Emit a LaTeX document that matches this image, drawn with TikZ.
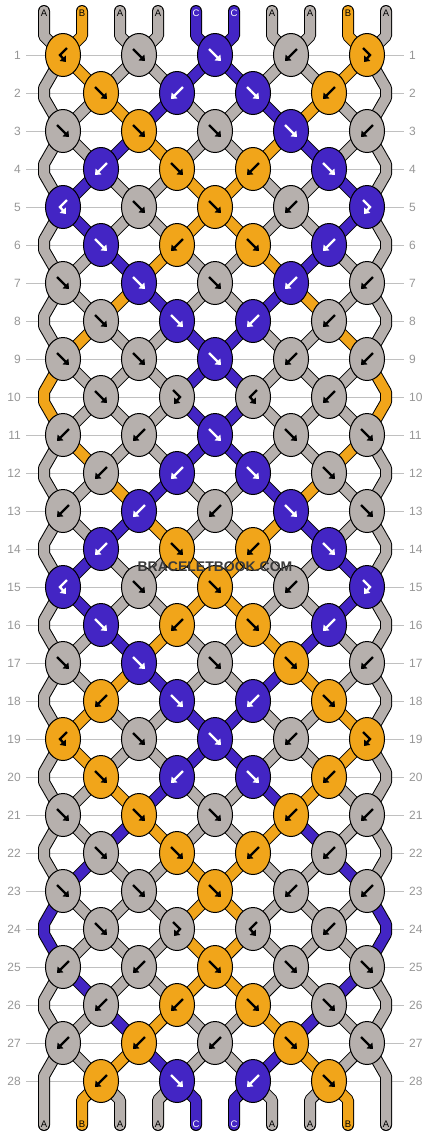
\documentclass[tikz,border=0pt]{standalone}
\usepackage{fontspec}
\setmainfont{Liberation Sans}
\usetikzlibrary{arrows.meta,shapes.geometric}
\definecolor{threadA}{RGB}{182,176,173}
\definecolor{threadB}{RGB}{241,165,26}
\definecolor{threadC}{RGB}{67,37,196}
\colorlet{inkA}{black}
\colorlet{inkB}{black}
\colorlet{inkC}{white}
\definecolor{rowgray}{RGB}{192,192,192}
\definecolor{numgray}{RGB}{150,150,150}
\definecolor{markgray}{RGB}{58,58,58}

% knot glyphs, drawn from the knot centre
\newcommand\glyphf{++(-6,-6) -- ++(12,12)}
\newcommand\glyphb{++(6,-6) -- ++(-12,12)}
\newcommand\glyphbf{++(4,-7) -- ++(-7,7) -- ++(6,7)}
\newcommand\glyphfb{++(-4,-7) -- ++(7,7) -- ++(-6,7)}

\tikzset{
  strand/.style={draw=black, double=#1, double distance=10pt, line width=1pt,
    line join=round, line cap=round},
  knot/.style={ellipse, draw=black, line width=1pt, fill=#1,
    minimum width=35pt, minimum height=43pt, inner sep=0pt},
  glyph/.style={draw=#1, line width=2.4pt, -{Triangle[length=5pt,width=8pt]}},
  rownum/.style={text=numgray, font=\fontsize{12}{12}\selectfont, inner sep=5pt},
  rowline/.style={draw=rowgray, line width=1pt},
  letter/.style={text=#1, font=\fontsize{9.5}{9.5}\selectfont, inner sep=0pt},
  declare function={
    ky(\i)=55+38*(\i-1);
    kx(\i,\j)=44+38*(\j-1)+(mod(\i,2)==1 ? (mod(\j,2)==1 ? 19 : -19)
      : ((\j==1 || \j==10) ? 0 : (mod(\j,2)==0 ? 19 : -19)));
  }
}

\begin{document}
\begin{tikzpicture}[x=1pt,y=-1pt]
\useasboundingbox (0,0) rectangle (430,1136);

% row numbers and guide lines
\foreach \r in {1,...,28} {
  \node[rownum, anchor=east] (ln-\r) at (26,{ky(\r)}) {\r};
  \node[rownum, anchor=west] (rn-\r) at (404,{ky(\r)}) {\r};
  \draw[rowline] (ln-\r) -- (rn-\r);
}

% points where the threads meet
\foreach \p in {1,...,10} {
  \coordinate (t-\p) at ({44+38*(\p-1)},11);
  \coordinate (tb-\p) at ({44+38*(\p-1)},36);
  \coordinate (bb-\p) at ({44+38*(\p-1)},1100);
  \coordinate (b-\p) at ({44+38*(\p-1)},1125);
  \foreach \r in {1,...,28}
    \coordinate (s-\r-\p) at ({kx(\r,\p)},{ky(\r)});
}

% threads, colour of each position after row \r
\foreach \r/\row in {0/{A,B,A,A,C,C,A,A,B,A}, 1/{A,B,A,A,C,C,A,A,B,A},
    2/{A,A,B,C,A,A,C,B,A,A}, 3/{A,A,C,B,A,A,B,C,A,A}, 4/{A,C,A,A,B,B,A,A,C,A},
    5/{A,C,A,A,B,B,A,A,C,A}, 6/{A,A,C,B,A,A,B,C,A,A}, 7/{A,A,B,C,A,A,C,B,A,A},
    8/{A,B,A,A,C,C,A,A,B,A}, 9/{B,A,A,A,C,C,A,A,A,B}, 10/{B,A,A,A,C,C,A,A,A,B},
    11/{A,B,A,A,C,C,A,A,B,A}, 12/{A,A,B,C,A,A,C,B,A,A}, 13/{A,A,C,B,A,A,B,C,A,A},
    14/{A,C,A,A,B,B,A,A,C,A}, 15/{A,C,A,A,B,B,A,A,C,A}, 16/{A,A,C,B,A,A,B,C,A,A},
    17/{A,A,B,C,A,A,C,B,A,A}, 18/{A,B,A,A,C,C,A,A,B,A}, 19/{A,B,A,A,C,C,A,A,B,A},
    20/{A,A,B,C,A,A,C,B,A,A}, 21/{A,A,C,B,A,A,B,C,A,A}, 22/{A,C,A,A,B,B,A,A,C,A},
    23/{C,A,A,A,B,B,A,A,A,C}, 24/{C,A,A,A,B,B,A,A,A,C}, 25/{A,C,A,A,B,B,A,A,C,A},
    26/{A,A,C,B,A,A,B,C,A,A}, 27/{A,A,B,C,A,A,C,B,A,A}, 28/{A,B,A,A,C,C,A,A,B,A}} {
  \pgfmathtruncatemacro\n{\r+1}
  \pgfmathtruncatemacro\m{\r+2}
  \pgfmathtruncatemacro\odd{mod(\r,2)}
  \foreach \c [count=\p] in \row {
    \pgfmathtruncatemacro\e{(\p==1 || \p==10) ? 1 : 0}
    \ifnum\r=0\relax
      \draw[strand=thread\c] (t-\p) -- (tb-\p) -- (s-1-\p);
    \else\ifnum\e=1\relax
      \ifnum\odd=1\relax
        \ifnum\r=27\relax
          \draw[strand=thread\c] (s-\r-\p) -- ([yshift=5pt]s-\n-\p) -- (b-\p);
        \else
          \draw[strand=thread\c] (s-\r-\p) -- ([yshift=5pt]s-\n-\p)
            -- ([yshift=-5pt]s-\n-\p) -- (s-\m-\p);
        \fi
      \fi
    \else\ifnum\r=28\relax
      \draw[strand=thread\c] (s-\r-\p) -- (bb-\p) -- (b-\p);
    \else
      \draw[strand=thread\c] (s-\r-\p) -- (s-\n-\p);
    \fi\fi\fi
  }
}

% knots: colour / direction
\foreach \r/\knots in {1/{B/bf,A/f,C/f,A/b,B/fb}, 2/{B/f,C/b,C/f,B/b},
    3/{A/f,B/f,A/f,C/f,A/b}, 4/{C/b,B/f,B/b,C/f}, 5/{C/bf,A/f,B/f,A/b,C/fb},
    6/{C/f,B/b,B/f,C/b}, 7/{A/f,C/f,A/f,C/b,A/b}, 8/{A/f,C/f,C/b,A/b},
    9/{A/f,A/f,C/f,A/b,A/b}, 10/{A/f,A/fb,A/bf,A/b}, 11/{A/b,A/b,C/f,A/f,A/f},
    12/{A/b,C/b,C/f,A/f}, 13/{A/b,C/b,A/b,C/f,A/f}, 14/{C/b,B/f,B/b,C/f},
    15/{C/bf,A/f,B/f,A/b,C/fb}, 16/{C/f,B/b,B/f,C/b}, 17/{A/f,C/f,A/f,B/f,A/b},
    18/{B/b,C/f,C/b,B/f}, 19/{B/bf,A/f,C/f,A/b,B/fb}, 20/{B/f,C/b,C/f,B/b},
    21/{A/f,B/f,A/f,B/b,A/b}, 22/{A/f,B/f,B/b,A/b}, 23/{A/f,A/f,B/f,A/b,A/b},
    24/{A/f,A/fb,A/bf,A/b}, 25/{A/b,A/b,B/f,A/f,A/f}, 26/{A/b,B/b,B/f,A/f},
    27/{A/b,B/b,A/b,B/f,A/f}, 28/{B/b,C/f,C/b,B/f}} {
  \foreach \col/\kind [count=\k] in \knots {
    \pgfmathtruncatemacro\p{mod(\r,2)==1 ? 2*\k-1 : 2*\k}
    \node[knot=thread\col] (k-\r-\k) at (s-\r-\p) {};
    \draw[glyph=ink\col] (k-\r-\k.center) \csname glyph\kind\endcsname;
  }
}

% thread letters
\foreach \c [count=\p] in {A,B,A,A,C,C,A,A,B,A} {
  \node[letter=ink\c] (lt-\p) at ({44+38*(\p-1)},13) {\c};
  \node[letter=ink\c] (lb-\p) at ({44+38*(\p-1)},1124) {\c};
}

\node[text=markgray, font=\bfseries\fontsize{14}{14}\selectfont] (mark) at (215,567) {BRACELETBOOK.COM};
\end{tikzpicture}
\end{document}
